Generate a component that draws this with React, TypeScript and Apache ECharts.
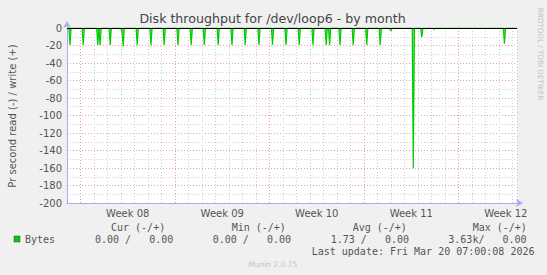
import React, { useEffect, useRef } from 'react';
import * as echarts from 'echarts';

// Time axis: days since Monday 16 Feb 2026 00:00 (start of Week 08)
const weekLabels = ['Week 08', 'Week 09', 'Week 10', 'Week 11', 'Week 12'];
const weekStarts = [0, 7, 14, 21, 28];
const xMin = -1;
const xMax = 32.33;
const sampleStep = 1 / 12; // 2-hour samples

// Read (-) spikes: [start day, consecutive 2-hourly sample values]
const readSpikes: [number, number[]][] = [
  [-0.78, [-19.5]],
  [0.2, [-19.5]],
  [1.28, [-19.5]],
  [1.45, [-19.5]],
  [2.2, [-19.5]],
  [3.08, [-6, -20.5]],
  [4.2, [-19.5]],
  [5.22, [-19.5]],
  [6.2, [-19.5]],
  [7.22, [-19.5]],
  [8.2, [-19.5]],
  [9.17, [-19.5]],
  [10.2, [-19.5]],
  [11.22, [-19.5]],
  [12.2, [-19.5]],
  [13.22, [-19.5]],
  [14.22, [-19.5]],
  [15.22, [-19.5]],
  [16.2, [-19.5]],
  [17.22, [-19.5]],
  [18.2, [-19.5]],
  [18.45, [-19.5]],
  [19.22, [-19.5]],
  [20.2, [-19.5]],
  [21.2, [-19.5]],
  [22.2, [-19.5]],
  [22.98, [-3.5]],
  [24.65, [-160]],
  [25.28, [-10.5]],
  [26.2, [-1.5]],
  [31.4, [-18]],
];

const yMin = -200;
const yMax = 0;
const yInterval = 20;

const titleText = 'Disk throughput for /dev/loop6 - by month';
const yAxisName = 'Pr second read (-) / write (+)';
const seriesName = 'Bytes';
const legendHeaders = ['Cur (-/+)', 'Min (-/+)', 'Avg (-/+)', 'Max (-/+)'];
const legendValues = ['0.00 /   0.00', '0.00 /   0.00', '1.73 /   0.00', '3.63k/   0.00'];
const lastUpdate = 'Last update: Fri Mar 20 07:00:08 2026';
const muninVersion = 'Munin 2.0.75';
const rrdCredit = 'RRDTOOL / TOBI OETIKER';

const headerX = [111, 231.7, 352.7, 472.7];
const valueX = [95, 212.7, 330.7, 448.3];

function buildReadData(): [number, number][] {
  const d: [number, number][] = [[xMin, 0]];
  for (const [t, vals] of readSpikes) {
    d.push([t - sampleStep, 0]);
    vals.forEach((v, i) => d.push([t + i * sampleStep, v]));
    d.push([t + vals.length * sampleStep, 0]);
  }
  d.push([xMax, 0]);
  return d;
}

const GREEN = '#00cc00';
const RED_GRID = '#e6a0a0';
const GRAY_GRID = '#cfcfcf';
const AXIS_COLOR = '#aaaaee';

function txt(text: string, x: number, y: number, opts: any = {}) {
  return {
    type: 'text',
    x,
    y,
    rotation: opts.rotation || 0,
    silent: true,
    style: {
      text,
      fill: opts.fill || '#555',
      fontSize: opts.fontSize || 10,
      fontFamily: opts.fontFamily || 'DejaVu Sans Mono',
      textAlign: opts.align || 'left',
      align: opts.align || 'left',
      textVerticalAlign: 'middle',
      verticalAlign: 'middle',
    },
  };
}

export default function App() {
  const ref = useRef<HTMLDivElement>(null);
  useEffect(() => {
    if (!ref.current) return;
    const chart = echarts.init(ref.current, null, { renderer: 'svg' });
    const graphics: any[] = [
      txt(titleText, 272.5, 18.5, { fontFamily: 'DejaVu Sans', fontSize: 12.6, fill: '#444', align: 'center' }),
      txt(yAxisName, 12, 116, { fontFamily: 'DejaVu Sans', fontSize: 10, fill: '#555', align: 'center', rotation: Math.PI / 2 }),
      txt(rrdCredit, 540, 54, { fontFamily: 'DejaVu Sans', fontSize: 7.2, fill: '#c4c4c4', align: 'center', rotation: -Math.PI / 2 }),
      {
        type: 'rect',
        shape: { x: 14, y: 236, width: 6, height: 6 },
        style: { fill: GREEN, stroke: '#444', lineWidth: 0.5 },
        silent: true,
      },
      txt(seriesName, 25, 239),
      txt(lastUpdate, 311.7, 251.7),
      txt(muninVersion, 248.3, 264, { fontFamily: 'DejaVu Sans', fontSize: 7.5, fill: '#c4c4c4' }),
    ];
    legendHeaders.forEach((h, i) => graphics.push(txt(h, headerX[i], 227.3)));
    legendValues.forEach((v, i) => graphics.push(txt(v, valueX[i], 239)));

    chart.setOption({
      animation: false,
      backgroundColor: '#f0f0f0',
      grid: { left: 67, top: 28, width: 450, height: 175, show: true, backgroundColor: '#ffffff', borderWidth: 0 },
      xAxis: [
        {
          type: 'value',
          min: xMin,
          max: xMax,
          interval: 1,
          axisLine: {
            show: true,
            onZero: false,
            lineStyle: { color: AXIS_COLOR, width: 1 },
            symbol: ['none', 'arrow'],
            symbolSize: [6, 7],
            symbolOffset: [0, 6],
          },
          axisTick: { show: false },
          axisLabel: { show: false },
          splitLine: { show: true, lineStyle: { color: GRAY_GRID, type: [1, 2], width: 1 } },
        },
        {
          type: 'value',
          position: 'bottom',
          min: xMin,
          max: xMax,
          interval: 0.5,
          axisLine: { show: false, onZero: false },
          axisTick: { show: false },
          splitLine: { show: false },
          axisLabel: {
            show: true,
            interval: 0,
            margin: 5,
            color: '#555',
            fontSize: 10,
            fontFamily: 'DejaVu Sans',
            showMinLabel: true,
            showMaxLabel: true,
            formatter: (v: number) => {
              const w = Math.floor(v / 7);
              const r = v - w * 7;
              if (Math.abs(r - 3.5) < 1e-6 && w >= 0 && w < weekLabels.length) return weekLabels[w];
              return '';
            },
          },
        },
      ],
      yAxis: {
        type: 'value',
        min: yMin,
        max: yMax,
        interval: yInterval,
        axisLine: {
          show: true,
          onZero: false,
          lineStyle: { color: AXIS_COLOR, width: 1 },
          symbol: ['none', 'arrow'],
          symbolSize: [6, 7],
          symbolOffset: [0, 7],
        },
        axisTick: { show: false },
        axisLabel: { color: '#555', fontSize: 10, fontFamily: 'DejaVu Sans', margin: 5 },
        splitLine: { show: true, lineStyle: { color: RED_GRID, type: [1, 2], width: 1 } },
        minorTick: { show: false, splitNumber: 2 },
        minorSplitLine: { show: true, lineStyle: { color: GRAY_GRID, type: [1, 2], width: 1 } },
      },
      series: [
        {
          name: seriesName,
          type: 'line',
          xAxisIndex: 0,
          data: buildReadData(),
          showSymbol: false,
          symbol: 'none',
          lineStyle: { color: GREEN, width: 1.2 },
          areaStyle: { color: GREEN, opacity: 0.6 },
          silent: true,
          markLine: {
            silent: true,
            symbol: ['none', 'none'],
            label: { show: false },
            animation: false,
            data: [
              ...weekStarts.map((d) => ({ xAxis: d, lineStyle: { color: RED_GRID, type: [1, 2], width: 1 } })),
              { yAxis: 0, lineStyle: { color: '#000000', type: 'solid', width: 1 } },
            ],
          },
        },
      ],
      graphic: graphics,
    });
    return () => chart.dispose();
  }, []);
  return <div ref={ref} style={{ position: 'fixed', left: 0, top: 0, width: 547, height: 275 }} />;
}
